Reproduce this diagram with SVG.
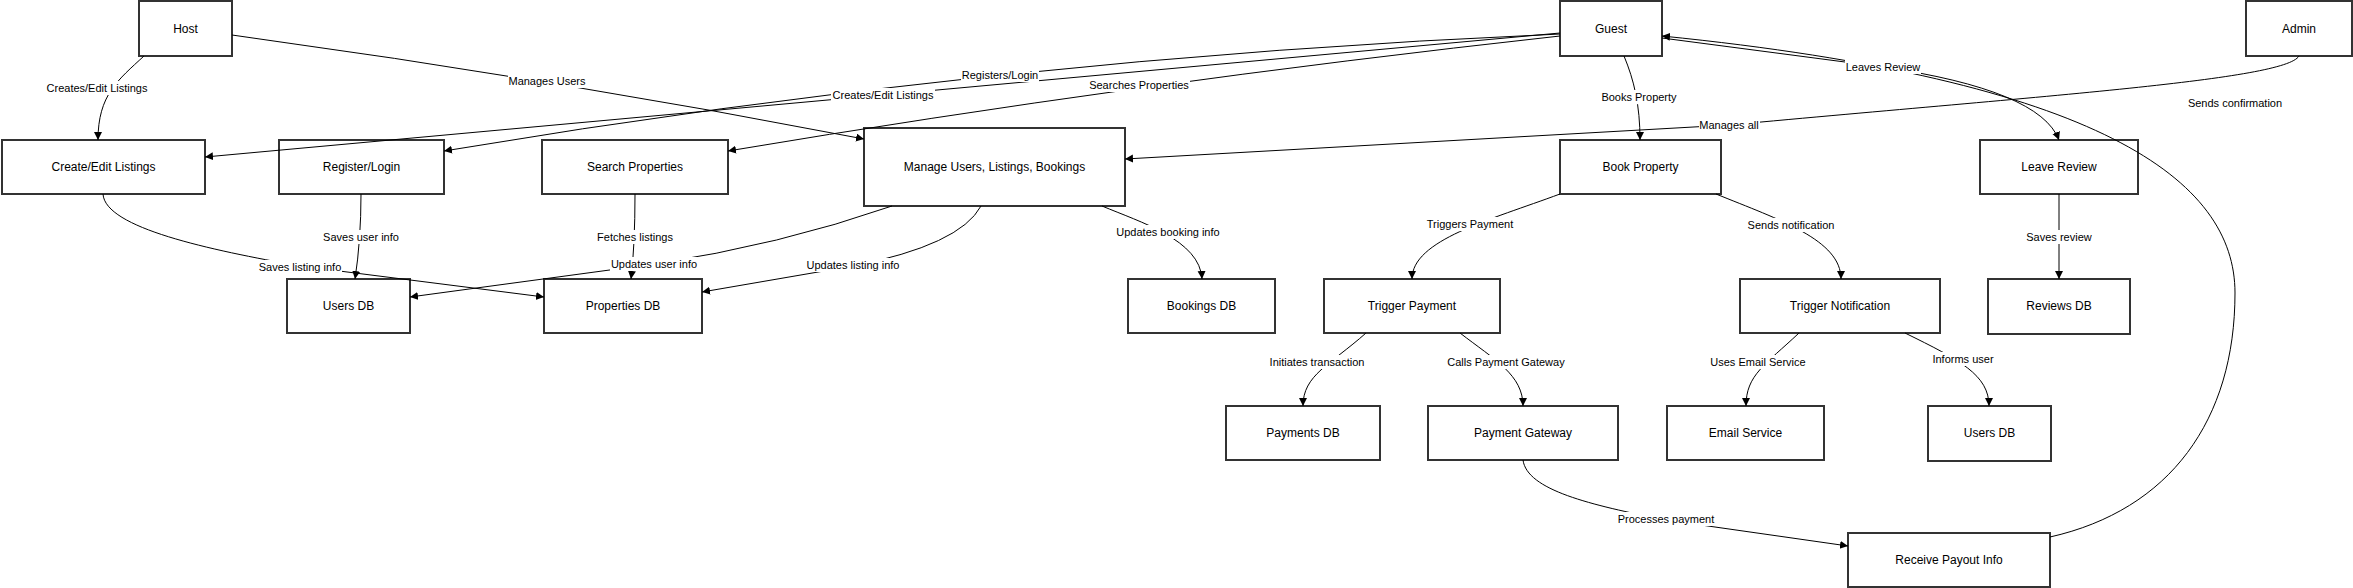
<svg xmlns="http://www.w3.org/2000/svg" width="2353" height="588" viewBox="0 0 2353 588">
<style>
.node rect{fill:#fff;stroke:#333;stroke-width:2}
.node text{font-family:"Liberation Sans",Arial,sans-serif;font-size:12px;fill:#000;text-anchor:middle;dominant-baseline:central}
.edge{fill:none;stroke:#000;stroke-width:1;marker-end:url(#arr)}
.plain{fill:none;stroke:#000;stroke-width:1}
.lbg{fill:#fff}
.lbl{font-family:"Liberation Sans",Arial,sans-serif;font-size:11px;fill:#000;text-anchor:middle;dominant-baseline:central}
</style>
<defs>
<marker id="arr" markerWidth="10" markerHeight="10" refX="8" refY="4" orient="auto" markerUnits="userSpaceOnUse"><path d="M0,0 L8,4 L0,8 z" fill="#000"/></marker>
</defs>
<rect width="2353" height="588" fill="#fff"/>
<g id="nodes">
<g id="host" class="node"><rect x="139" y="1" width="93" height="55"/><text x="185.5" y="28.5">Host</text></g>
<g id="create" class="node"><rect x="2" y="140" width="203" height="54"/><text x="103.5" y="167">Create/Edit Listings</text></g>
<g id="register" class="node"><rect x="279" y="140" width="165" height="54"/><text x="361.5" y="167">Register/Login</text></g>
<g id="search" class="node"><rect x="542" y="140" width="186" height="54"/><text x="635" y="167">Search Properties</text></g>
<g id="manage" class="node"><rect x="864" y="128" width="261" height="78"/><text x="994.5" y="167">Manage Users, Listings, Bookings</text></g>
<g id="guest" class="node"><rect x="1560" y="1" width="102" height="55"/><text x="1611" y="28.5">Guest</text></g>
<g id="book" class="node"><rect x="1560" y="140" width="161" height="54"/><text x="1640.5" y="167">Book Property</text></g>
<g id="admin" class="node"><rect x="2246" y="1" width="106" height="55"/><text x="2299" y="28.5">Admin</text></g>
<g id="leave" class="node"><rect x="1980" y="140" width="158" height="54"/><text x="2059" y="167">Leave Review</text></g>
<g id="usersdb1" class="node"><rect x="287" y="279" width="123" height="54"/><text x="348.5" y="306">Users DB</text></g>
<g id="propdb" class="node"><rect x="544" y="279" width="158" height="54"/><text x="623" y="306">Properties DB</text></g>
<g id="bookingsdb" class="node"><rect x="1128" y="279" width="147" height="54"/><text x="1201.5" y="306">Bookings DB</text></g>
<g id="trigpay" class="node"><rect x="1324" y="279" width="176" height="54"/><text x="1412" y="306">Trigger Payment</text></g>
<g id="trignot" class="node"><rect x="1740" y="279" width="200" height="54"/><text x="1840" y="306">Trigger Notification</text></g>
<g id="reviewsdb" class="node"><rect x="1988" y="279" width="142" height="55"/><text x="2059" y="306">Reviews DB</text></g>
<g id="paymentsdb" class="node"><rect x="1226" y="406" width="154" height="54"/><text x="1303" y="433">Payments DB</text></g>
<g id="gateway" class="node"><rect x="1428" y="406" width="190" height="54"/><text x="1523" y="433">Payment Gateway</text></g>
<g id="email" class="node"><rect x="1667" y="406" width="157" height="54"/><text x="1745.5" y="433">Email Service</text></g>
<g id="usersdb2" class="node"><rect x="1928" y="406" width="123" height="55"/><text x="1989.5" y="433">Users DB</text></g>
<g id="payout" class="node"><rect x="1848" y="533" width="202" height="54"/><text x="1949" y="560">Receive Payout Info</text></g>
</g>
<g id="connectors">
<path class="edge" d="M144,56 C118,80 98,95 98,140"/>
<path class="edge" d="M232,35 Q560,80 864,139"/>
<path class="edge" d="M1560,33 L205,157"/>
<path class="edge" d="M1560,34 Q997,58 444,151"/>
<path class="edge" d="M1560,36 Q1133,83 728,151"/>
<path class="edge" d="M1624,56 C1634,80 1640,105 1640,140"/>
<path class="edge" d="M2299,56 C2285,80 2050,95 1729,125 L1125,159"/>
<path class="edge" d="M1662,38 L1883,67 Q2040,90 2059,140"/>
<path class="edge" d="M2050,537 C2170,510 2235,420 2235,293 C2235,180 2100,80 1662,36"/>
<path class="edge" d="M892,206 Q780,245 654,264 L410,297"/>
<path class="edge" d="M981,206 Q960,245 853,266 L702,292"/>
<path class="edge" d="M1102,206 C1140,222 1200,240 1202,279"/>
<path class="edge" d="M103,194 C105,228 210,250 300,266 L544,297"/>
<path class="edge" d="M361,194 Q361,240 355,279"/>
<path class="edge" d="M635,194 Q635,245 631,279"/>
<path class="edge" d="M1560,194 C1490,220 1412,240 1412,279"/>
<path class="edge" d="M1716,194 C1780,220 1841,240 1841,279"/>
<path class="edge" d="M2059,194 L2059,279"/>
<path class="edge" d="M1366,333 C1330,365 1303,375 1303,406"/>
<path class="edge" d="M1460,333 C1495,360 1523,375 1523,406"/>
<path class="edge" d="M1799,333 C1765,365 1746,375 1746,406"/>
<path class="edge" d="M1905,333 C1960,360 1989,375 1989,406"/>
<path class="edge" d="M1523,460 C1527,490 1590,505 1666,520 L1848,546"/>
<g id="edge-labels">
<rect class="lbg" x="45" y="81" width="104" height="14"/><text class="lbl" x="97" y="88">Creates/Edit Listings</text>
<rect class="lbg" x="508" y="74" width="79" height="14"/><text class="lbl" x="547" y="81">Manages Users</text>
<rect class="lbg" x="831" y="88" width="104" height="14"/><text class="lbl" x="883" y="95">Creates/Edit Listings</text>
<rect class="lbg" x="961" y="68" width="78" height="14"/><text class="lbl" x="1000" y="75">Registers/Login</text>
<rect class="lbg" x="1088" y="78" width="102" height="14"/><text class="lbl" x="1139" y="85">Searches Properties</text>
<rect class="lbg" x="1601" y="90" width="77" height="14"/><text class="lbl" x="1639" y="97">Books Property</text>
<rect class="lbg" x="1699" y="118" width="61" height="14"/><text class="lbl" x="1729" y="125">Manages all</text>
<rect class="lbg" x="1845" y="60" width="76" height="14"/><text class="lbl" x="1883" y="67">Leaves Review</text>
<text class="lbl" x="2235" y="103">Sends confirmation</text>
<rect class="lbg" x="610" y="257" width="88" height="14"/><text class="lbl" x="654" y="264">Updates user info</text>
<rect class="lbg" x="806" y="258" width="95" height="14"/><text class="lbl" x="853" y="265">Updates listing info</text>
<rect class="lbg" x="1116" y="225" width="105" height="14"/><text class="lbl" x="1168" y="232">Updates booking info</text>
<rect class="lbg" x="258" y="260" width="84" height="14"/><text class="lbl" x="300" y="267">Saves listing info</text>
<rect class="lbg" x="323" y="230" width="77" height="14"/><text class="lbl" x="361" y="237">Saves user info</text>
<rect class="lbg" x="597" y="230" width="77" height="14"/><text class="lbl" x="635" y="237">Fetches listings</text>
<rect class="lbg" x="1426" y="217" width="89" height="14"/><text class="lbl" x="1470" y="224">Triggers Payment</text>
<rect class="lbg" x="1747" y="218" width="89" height="14"/><text class="lbl" x="1791" y="225">Sends notification</text>
<rect class="lbg" x="2023" y="230" width="72" height="14"/><text class="lbl" x="2059" y="237">Saves review</text>
<rect class="lbg" x="1269" y="355" width="97" height="14"/><text class="lbl" x="1317" y="362">Initiates transaction</text>
<rect class="lbg" x="1447" y="355" width="119" height="14"/><text class="lbl" x="1506" y="362">Calls Payment Gateway</text>
<rect class="lbg" x="1710" y="355" width="97" height="14"/><text class="lbl" x="1758" y="362">Uses Email Service</text>
<rect class="lbg" x="1932" y="352" width="63" height="14"/><text class="lbl" x="1963" y="359">Informs user</text>
<rect class="lbg" x="1617" y="512" width="98" height="14"/><text class="lbl" x="1666" y="519">Processes payment</text>
</g>
</g>
</svg>
